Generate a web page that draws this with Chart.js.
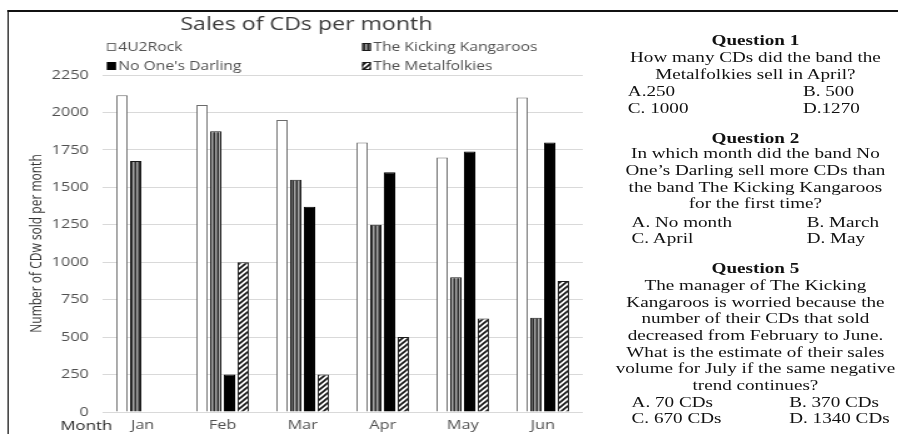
<!DOCTYPE html>
<html>
<head>
<meta charset="utf-8">
<script src="https://cdn.jsdelivr.net/npm/chart.js@4.4.1/dist/chart.umd.min.js"></script>
<style>
  html, body { margin: 0; padding: 0; background: #fff; overflow: hidden; }
  #page { position: absolute; left: 0; top: 0; width: 718px; height: 434px;
          transform: scaleX(1.2507); transform-origin: 0 0; }
  #frame { position: absolute; left: 6.4px; top: 10px; width: 720px; height: 440px;
           border-top: 2px solid #111; border-left: 1.7px solid #111; }
  #chart { position: absolute; left: 0; top: 0; }
  .q { position: absolute; font-family: "Liberation Serif", "Times New Roman", serif;
       font-size: 15.3px; line-height: 17px; color: #111; white-space: nowrap; }
  .c { left: 480px; width: 248px; text-align: center; }
  .b { font-weight: bold; }
</style>
</head>
<body>
<div id="page">
  <div id="frame"></div>
  <canvas id="chart" width="480" height="434" style="width:480px;height:434px"></canvas>

  <div class="q c b" style="top:31px">Question 1</div>
  <div class="q c" style="top:48px">How many CDs did the band the</div>
  <div class="q c" style="top:65px">Metalfolkies sell in April?</div>
  <div class="q" style="top:82px;left:502px">A.250</div>
  <div class="q" style="top:82px;left:642px">B. 500</div>
  <div class="q" style="top:99px;left:502px">C. 1000</div>
  <div class="q" style="top:99px;left:642px">D.1270</div>

  <div class="q c b" style="top:129px">Question 2</div>
  <div class="q c" style="top:144px">In which month did the band No</div>
  <div class="q c" style="top:161px">One’s Darling sell more CDs than</div>
  <div class="q c" style="top:178px">the band The Kicking Kangaroos</div>
  <div class="q c" style="top:194px">for the first time?</div>
  <div class="q" style="top:213px;left:505px">A. No month</div>
  <div class="q" style="top:213px;left:645px">B. March</div>
  <div class="q" style="top:229px;left:505px">C. April</div>
  <div class="q" style="top:229px;left:645px">D. May</div>

  <div class="q c b" style="top:259px">Question 5</div>
  <div class="q c" style="top:276px">The manager of The Kicking</div>
  <div class="q c" style="top:293px">Kangaroos is worried because the</div>
  <div class="q c" style="top:309px">number of their CDs that sold</div>
  <div class="q c" style="top:326px">decreased from February to June.</div>
  <div class="q c" style="top:343px">What is the estimate of their sales</div>
  <div class="q c" style="top:359px">volume for July if the same negative</div>
  <div class="q c" style="top:376px">trend continues?</div>
  <div class="q" style="top:393px;left:505px">A. 70 CDs</div>
  <div class="q" style="top:393px;left:631px">B. 370 CDs</div>
  <div class="q" style="top:409px;left:505px">C. 670 CDs</div>
  <div class="q" style="top:409px;left:631px">D. 1340 CDs</div>
</div>

<script>
// Monthly CD sales per band
const months = ['Jan', 'Feb', 'Mar', 'Apr', 'May', 'Jun'];
const seriesNames = ['4U2Rock', 'The Kicking Kangaroos', "No One's Darling", 'The Metalfolkies'];
const rockSales     = [2115, 2050, 1950, 1800, 1700, 2100];
const kangarooSales = [1675, 1875, 1550, 1250, 900, 630];
const darlingSales  = [0, 250, 1370, 1600, 1740, 1800];
const metalSales    = [0, 1000, 250, 500, 625, 875];
const yTicks = [0, 250, 500, 750, 1000, 1250, 1500, 1750, 2000, 2250];
const chartTitle = 'Sales of CDs per month';
const yTitle = 'Number of CDw sold per month';
const xTitle = 'Month';

// Fill patterns for the monochrome bars
function makePattern(w, h, paint) {
  const c = document.createElement('canvas');
  c.width = w; c.height = h;
  const g = c.getContext('2d');
  paint(g, w, h);
  return g.createPattern(c, 'repeat');
}
const stripes = makePattern(3, 4, (g) => {
  g.fillStyle = '#2e2e2e'; g.fillRect(0, 0, 1, 4);
  g.fillStyle = '#a6a6a6'; g.fillRect(1, 0, 1, 4);
  g.fillStyle = '#6a6a6a'; g.fillRect(2, 0, 1, 4);
});
const hatch = makePattern(5, 5, (g, w, h) => {
  g.fillStyle = '#fff'; g.fillRect(0, 0, w, h);
  g.strokeStyle = '#111'; g.lineWidth = 1.6;
  g.beginPath();
  g.moveTo(-1, h + 1); g.lineTo(w + 1, -1);
  g.moveTo(-1, 1); g.lineTo(1, -1);
  g.moveTo(w - 1, h + 1); g.lineTo(w + 1, h - 1);
  g.stroke();
});

const FONT = '"Open Sans", "Noto Sans", sans-serif';

// Title, two-column legend and the "Month" caption
const headerPlugin = {
  id: 'header',
  afterDraw(chart) {
    const ctx = chart.ctx;
    ctx.save();
    ctx.fillStyle = '#3a3a3a';
    ctx.font = '18.5px ' + FONT;
    ctx.textAlign = 'center';
    ctx.textBaseline = 'middle';
    ctx.fillText(chartTitle, 245, 25);

    const slots = [[85.6, 47], [289.5, 47], [85.6, 66], [289.5, 66]];
    ctx.font = '12.5px ' + FONT;
    ctx.textAlign = 'left';
    chart.data.datasets.forEach((ds, i) => {
      const [x, y] = slots[i];
      ctx.fillStyle = ds.backgroundColor;
      ctx.fillRect(x, y - 4, 7, 8);
      ctx.strokeStyle = ds.borderColor;
      ctx.lineWidth = 1;
      ctx.strokeRect(x + 0.5, y - 3.5, 6, 7);
      ctx.fillStyle = '#505050';
      ctx.fillText(ds.label, x + 9, y);
    });

    ctx.font = '13.5px ' + FONT;
    ctx.fillStyle = '#262626';
    ctx.textAlign = 'center';
    ctx.fillText(xTitle, 69, 426);
    ctx.restore();
  }
};

new Chart(document.getElementById('chart'), {
  type: 'bar',
  data: {
    labels: months,
    datasets: [
      { label: seriesNames[0], data: rockSales, backgroundColor: '#ffffff', borderColor: '#6b6b6b', borderWidth: 1 },
      { label: seriesNames[1], data: kangarooSales, backgroundColor: stripes, borderColor: '#1a1a1a', borderWidth: 1 },
      { label: seriesNames[2], data: darlingSales, backgroundColor: '#000000', borderColor: '#000000', borderWidth: 1 },
      { label: seriesNames[3], data: metalSales, backgroundColor: hatch, borderColor: '#1a1a1a', borderWidth: 1 }
    ]
  },
  options: {
    responsive: false,
    animation: false,
    devicePixelRatio: 1,
    layout: { padding: { top: 75, right: 14, left: 0, bottom: 0 } },
    datasets: { bar: { categoryPercentage: 0.686, barPercentage: 0.82 } },
    plugins: { legend: { display: false }, title: { display: false }, tooltip: { enabled: false } },
    scales: {
      x: {
        grid: { display: false, drawTicks: false },
        border: { display: false },
        ticks: { color: '#505050', font: { family: FONT, size: 13 }, padding: 5 },
        afterFit: (s) => { s.height = 22; }
      },
      y: {
        min: 0, max: 2250,
        afterBuildTicks: (s) => { s.ticks = yTicks.map(v => ({ value: v })); },
        grid: { color: '#d9d9d9', lineWidth: 1, drawTicks: false },
        border: { display: false },
        ticks: { color: '#505050', font: { family: FONT, size: 13 }, padding: 11,
                 callback: (v) => String(v) },
        title: { display: true, text: yTitle, color: '#333',
                 font: { family: FONT, size: 12 }, padding: { top: 22, bottom: 0 } },
        afterFit: (s) => { s.width = 82; }
      }
    }
  },
  plugins: [headerPlugin]
});
</script>
</body>
</html>
